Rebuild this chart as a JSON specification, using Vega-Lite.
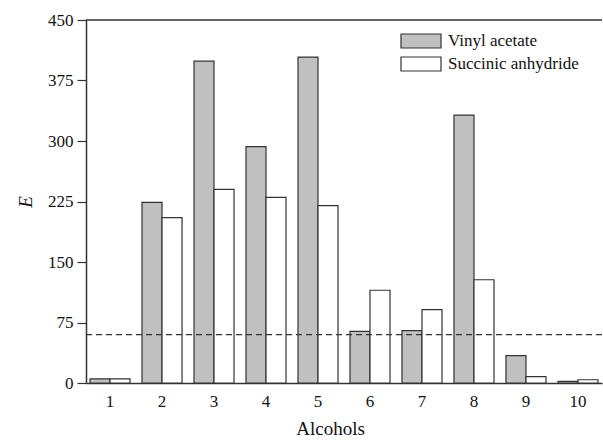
{
  "$schema": "https://vega.github.io/schema/vega-lite/v6.json",
  "autosize": "none",
  "width": 516,
  "height": 363,
  "padding": {"left": 86, "top": 20, "right": 1, "bottom": 57},
  "background": "white",
  "config": {
    "view": {"stroke": null},
    "font": "Liberation Serif",
    "axis": {"labelFont": "Liberation Serif", "titleFont": "Liberation Serif", "labelColor": "#111", "titleColor": "#111", "titleFontWeight": "normal", "domainColor": "#333", "domainWidth": 1.5, "tickColor": "#333", "tickWidth": 1.2, "grid": false},
    "legend": {"labelFont": "Liberation Serif"}
  },
  "datasets": {
    "bars": [
      {"alcohol": "1", "reagent": "Vinyl acetate", "E": 5},
      {"alcohol": "1", "reagent": "Succinic anhydride", "E": 5},
      {"alcohol": "2", "reagent": "Vinyl acetate", "E": 224},
      {"alcohol": "2", "reagent": "Succinic anhydride", "E": 205},
      {"alcohol": "3", "reagent": "Vinyl acetate", "E": 399},
      {"alcohol": "3", "reagent": "Succinic anhydride", "E": 240},
      {"alcohol": "4", "reagent": "Vinyl acetate", "E": 293},
      {"alcohol": "4", "reagent": "Succinic anhydride", "E": 230},
      {"alcohol": "5", "reagent": "Vinyl acetate", "E": 404},
      {"alcohol": "5", "reagent": "Succinic anhydride", "E": 220},
      {"alcohol": "6", "reagent": "Vinyl acetate", "E": 64},
      {"alcohol": "6", "reagent": "Succinic anhydride", "E": 115},
      {"alcohol": "7", "reagent": "Vinyl acetate", "E": 65},
      {"alcohol": "7", "reagent": "Succinic anhydride", "E": 91},
      {"alcohol": "8", "reagent": "Vinyl acetate", "E": 332},
      {"alcohol": "8", "reagent": "Succinic anhydride", "E": 128},
      {"alcohol": "9", "reagent": "Vinyl acetate", "E": 34},
      {"alcohol": "9", "reagent": "Succinic anhydride", "E": 8},
      {"alcohol": "10", "reagent": "Vinyl acetate", "E": 2},
      {"alcohol": "10", "reagent": "Succinic anhydride", "E": 4}
    ],
    "threshold": [{"E": 60}],
    "top": [{"E": 450}]
  },
  "layer": [
    {
      "data": {"name": "bars"},
      "mark": {"type": "bar", "stroke": "#333", "strokeWidth": 1.2},
      "encoding": {
        "x": {
          "field": "alcohol", "type": "nominal",
          "sort": ["1","2","3","4","5","6","7","8","9","10"],
          "scale": {"paddingInner": 0.23, "paddingOuter": 0.077},
          "axis": {"title": "Alcohols", "titleFontSize": 19, "labelFontSize": 17, "labelAngle": 0, "ticks": false, "labelPadding": 10, "titlePadding": 10, "titleX": 244, "titleAnchor": "middle"}
        },
        "xOffset": {"field": "reagent", "type": "nominal", "sort": ["Vinyl acetate", "Succinic anhydride"]},
        "y": {
          "field": "E", "type": "quantitative",
          "scale": {"domain": [0, 450], "nice": false},
          "axis": {
            "title": "E", "titleFontStyle": "italic", "titleFontSize": 19, "titlePadding": 12,
            "values": [0, 37.5, 75, 112.5, 150, 187.5, 225, 262.5, 300, 337.5, 375, 412.5, 450],
            "labelExpr": "datum.value % 75 === 0 ? datum.label : ''",
            "labelFontSize": 17, "labelPadding": 4,
            "tickSize": {"condition": {"test": "datum.value % 75 === 0", "value": 9}, "value": 5}
          }
        },
        "fill": {
          "field": "reagent", "type": "nominal",
          "scale": {"domain": ["Vinyl acetate", "Succinic anhydride"], "range": ["#c0c0c0", "#ffffff"]},
          "legend": {
            "title": null, "orient": "none", "legendX": 324, "legendY": 10,
            "symbolType": "M-2,-0.7H2V0.7H-2Z", "symbolSize": 400,
            "symbolStrokeColor": "#333", "symbolStrokeWidth": 1.2,
            "labelFontSize": 17, "labelColor": "#111", "labelOffset": 16, "rowPadding": 2
          }
        }
      }
    },
    {
      "data": {"name": "threshold"},
      "mark": {"type": "rule", "stroke": "#333", "strokeDash": [6, 4], "strokeWidth": 1.2},
      "encoding": {"y": {"field": "E", "type": "quantitative"}}
    },
    {
      "data": {"name": "top"},
      "mark": {"type": "rule", "stroke": "#333", "strokeWidth": 1.5},
      "encoding": {"y": {"field": "E", "type": "quantitative"}}
    }
  ]
}
